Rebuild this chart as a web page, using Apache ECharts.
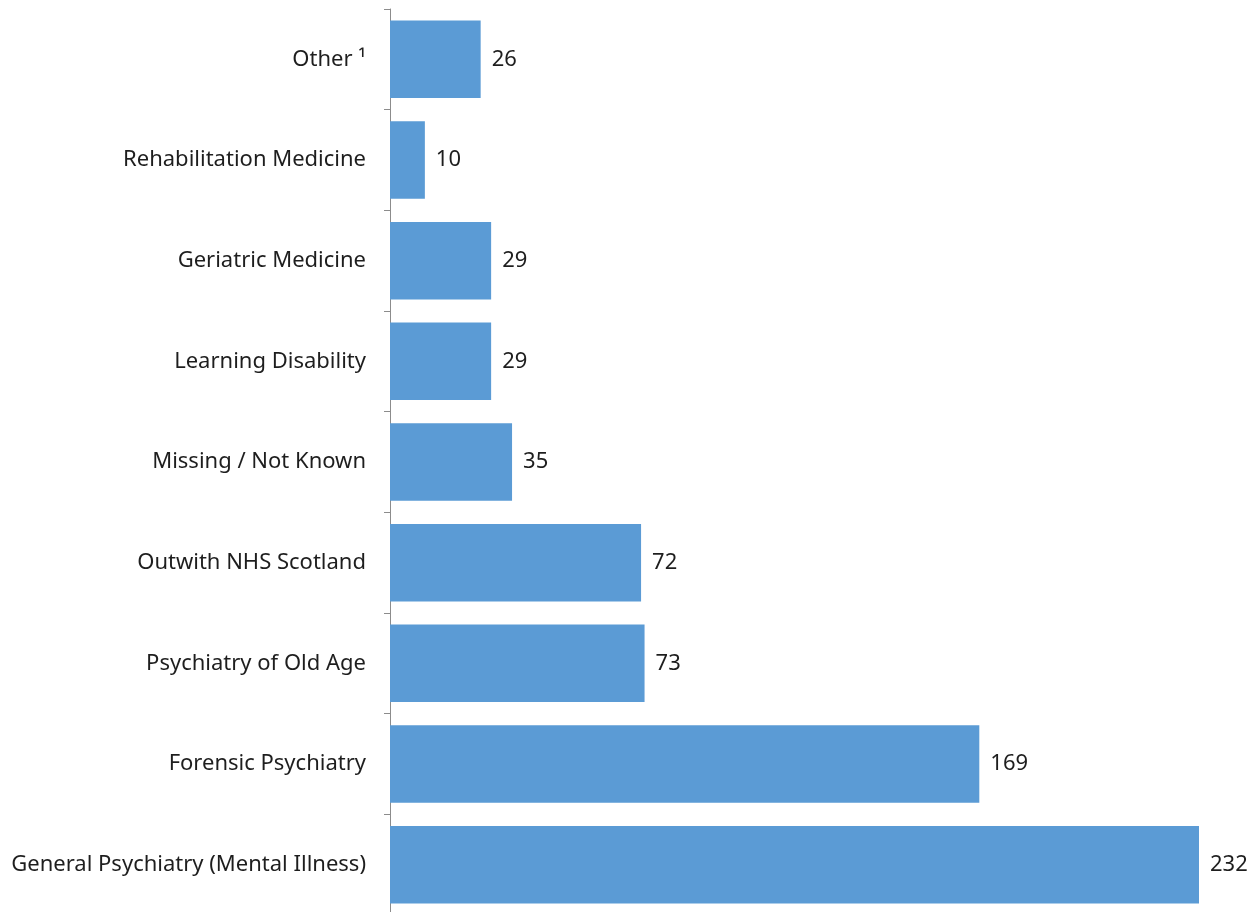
<!DOCTYPE html>
<html>
<head>
<meta charset="utf-8">
<script src="https://cdn.jsdelivr.net/npm/echarts@6/dist/echarts.min.js"></script>
<style>
  html, body { margin: 0; padding: 0; background: #fff; }
  #chart { width: 1260px; height: 912px; }
</style>
</head>
<body>
<div id="chart"></div>
<script>
// Specialties, listed from the bottom of the axis upwards
const specialties = [
  'General Psychiatry (Mental Illness)',
  'Forensic Psychiatry',
  'Psychiatry of Old Age',
  'Outwith NHS Scotland',
  'Missing / Not Known',
  'Learning Disability',
  'Geriatric Medicine',
  'Rehabilitation Medicine',
  'Other \u00B9'
];
const counts = [232, 169, 73, 72, 35, 29, 29, 10, 26];

const chart = echarts.init(document.getElementById('chart'), null, { renderer: 'canvas' });
const fontFamily = '"Noto Sans", "Open Sans", sans-serif';

chart.setOption({
  animation: false,
  backgroundColor: '#ffffff',
  grid: {
    left: 390, width: 809, top: 9, height: 906,
    containLabel: false,
    outerBoundsMode: 'none'
  },
  xAxis: {
    type: 'value',
    min: 0,
    max: 232,
    show: false
  },
  yAxis: {
    type: 'category',
    data: specialties,
    axisLine: { show: true, lineStyle: { color: '#8c8c8c', width: 1 } },
    axisTick: { show: true, length: 6, lineStyle: { color: '#8c8c8c' } },
    axisLabel: { color: '#1e1e1e', fontSize: 22, fontFamily: fontFamily, margin: 24 },
    splitLine: { show: false }
  },
  series: [{
    type: 'bar',
    data: counts,
    barCategoryGap: '23%',
    itemStyle: { color: '#5b9bd5' },
    label: {
      show: true,
      position: 'right',
      distance: 11,
      color: '#1e1e1e',
      fontSize: 22,
      fontFamily: fontFamily
    }
  }]
});
</script>
</body>
</html>
